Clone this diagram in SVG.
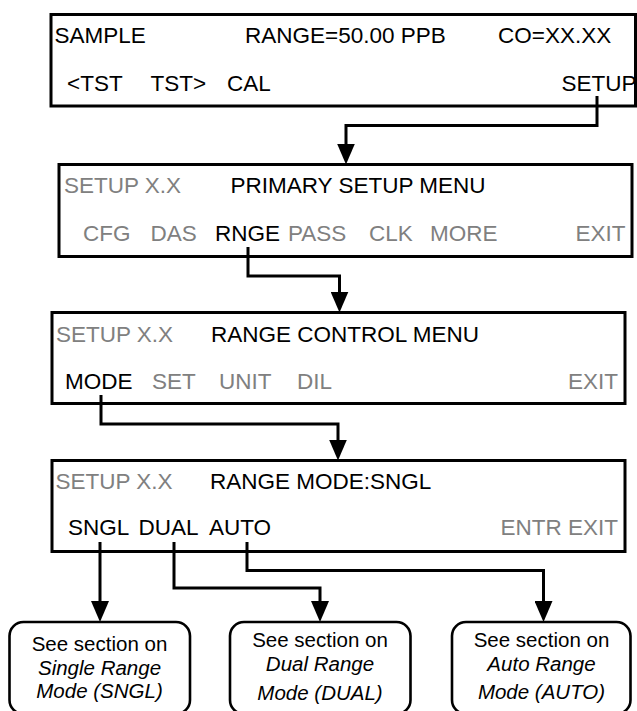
<svg xmlns="http://www.w3.org/2000/svg" width="637" height="711" viewBox="0 0 637 711">
<style>
.box{fill:#fff;stroke:#000;stroke-width:3}
.rbox{fill:#fff;stroke:#000;stroke-width:2.6}
.t{font-family:"Liberation Sans",Arial,Helvetica,sans-serif;font-size:22.5px;fill:#000}
.g{fill:#808080}
.e{text-anchor:end}
.n{font-family:"Liberation Sans",Arial,Helvetica,sans-serif;font-size:20.5px;fill:#000;text-anchor:middle}
.i{font-style:italic}
.c{fill:none;stroke:#000;stroke-width:3}
</style>
<defs>
<marker id="ah" viewBox="0 0 21 18" refX="12" refY="9" markerWidth="21" markerHeight="18" markerUnits="userSpaceOnUse" orient="auto">
<path d="M0,0 L21,9 L0,18 z" fill="#000"/>
</marker>
</defs>
<rect width="637" height="711" fill="#fff"/>
<g id="sample">
<rect class="box" x="51" y="14.5" width="584.5" height="91.5"/>
<text class="t" x="54.5" y="43.3">SAMPLE</text>
<text class="t" x="245" y="43.3">RANGE=50.00 PPB</text>
<text class="t" x="498" y="43.3">CO=XX.XX</text>
<text class="t" x="67" y="90.7">&lt;TST</text>
<text class="t" x="150.5" y="90.7">TST&gt;</text>
<text class="t" x="227" y="90.7">CAL</text>
<text class="t e" x="636.5" y="90.7">SETUP</text>
</g>
<g id="primary-setup">
<rect class="box" x="59" y="164.5" width="573" height="92"/>
<text class="t g" x="64" y="193.3">SETUP X.X</text>
<text class="t" x="230.5" y="193.3">PRIMARY SETUP MENU</text>
<text class="t g" x="83" y="240.7">CFG</text>
<text class="t g" x="150.5" y="240.7">DAS</text>
<text class="t" x="215" y="240.7">RNGE</text>
<text class="t g" x="288" y="240.7">PASS</text>
<text class="t g" x="369" y="240.7">CLK</text>
<text class="t g" x="430" y="240.7">MORE</text>
<text class="t g e" x="625.5" y="240.7">EXIT</text>
</g>
<g id="range-control">
<rect class="box" x="52" y="312.5" width="573" height="91"/>
<text class="t g" x="56" y="341.7">SETUP X.X</text>
<text class="t" x="211" y="341.7">RANGE CONTROL MENU</text>
<text class="t" x="65" y="389.3">MODE</text>
<text class="t g" x="152" y="389.3">SET</text>
<text class="t g" x="219" y="389.3">UNIT</text>
<text class="t g" x="297" y="389.3">DIL</text>
<text class="t g e" x="618" y="389.3">EXIT</text>
</g>
<g id="range-mode">
<rect class="box" x="52" y="460.5" width="573" height="91"/>
<text class="t g" x="55.5" y="489.3">SETUP X.X</text>
<text class="t" x="210" y="489.3">RANGE MODE:SNGL</text>
<text class="t" x="68" y="535">SNGL</text>
<text class="t" x="138.5" y="535">DUAL</text>
<text class="t" x="209" y="535">AUTO</text>
<text class="t g e" x="618" y="535">ENTR EXIT</text>
</g>
<g id="single">
<rect class="rbox" x="9.5" y="622" width="180.5" height="92" rx="14"/>
<text class="n" x="99.5" y="651">See section on</text>
<text class="n i" x="99.5" y="675">Single Range</text>
<text class="n i" x="99.5" y="698">Mode (SNGL)</text>
</g>
<g id="dual">
<rect class="rbox" x="230" y="622" width="180.5" height="92" rx="14"/>
<text class="n" x="320" y="647">See section on</text>
<text class="n i" x="320" y="671">Dual Range</text>
<text class="n i" x="320" y="700">Mode (DUAL)</text>
</g>
<g id="auto">
<rect class="rbox" x="452" y="622" width="178.5" height="92" rx="14"/>
<text class="n" x="541.5" y="647">See section on</text>
<text class="n i" x="541.5" y="671">Auto Range</text>
<text class="n i" x="541.5" y="699">Mode (AUTO)</text>
</g>
<g id="connectors">
<path class="c" d="M597,96 V125.5 H346 V155.5" marker-end="url(#ah)"/>
<path class="c" d="M248,247 V276 H339.5 V303.5" marker-end="url(#ah)"/>
<path class="c" d="M101,395 V424 H338 V451.5" marker-end="url(#ah)"/>
<path class="c" d="M100,542 V613" marker-end="url(#ah)"/>
<path class="c" d="M174,542 V588 H320 V613" marker-end="url(#ah)"/>
<path class="c" d="M247,542 V570.5 H543.5 V613" marker-end="url(#ah)"/>
</g>
</svg>
